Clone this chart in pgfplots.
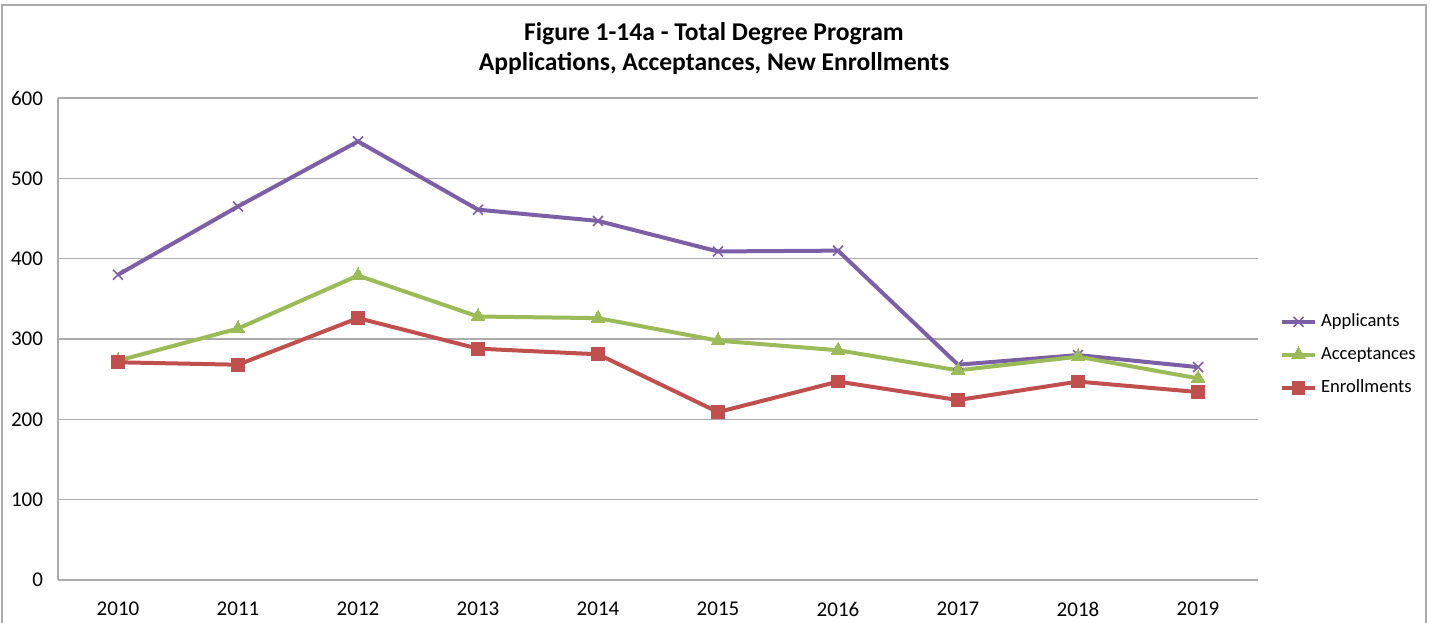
\documentclass[border=0pt]{standalone}
\usepackage{pgfplots}
\pgfplotsset{compat=1.18}
\usepackage{fontspec}
\setmainfont{Carlito}
\definecolor{appc}{HTML}{7D5FA5}
\definecolor{accc}{HTML}{9BBB59}
\definecolor{enrc}{HTML}{C0504D}
\definecolor{gridc}{HTML}{ABABAB}
\begin{document}
\begin{tikzpicture}[x=1pt,y=1pt]
\useasboundingbox (0,0) rectangle (715,311);
\draw[gridc, line width=1pt] (1,-20) -- (1,308.5) -- (713,308.5) -- (713,-20);
\node[font=\fontsize{12.8}{14}\selectfont\bfseries, align=center] at (357,294) {Figure 1-14a - Total Degree Program};
\node[font=\fontsize{12.8}{14}\selectfont\bfseries, align=center] at (357,279) {Applications, Acceptances, New Enrollments};
\begin{axis}[
  at={(29pt,21pt)}, anchor=south west,
  scale only axis, width=600pt, height=241pt,
  xmin=-0.5, xmax=9.5, ymin=0, ymax=600,
  xtick={0,...,9},
  xticklabels={2010,2011,2012,2013,2014,2015,2016,2017,2018,2019},
  ytick={0,100,...,600},
  major tick length=0pt,
  axis x line*=bottom, axis y line*=left,
  axis line style={gridc, line width=0.8pt, -},
  ymajorgrids, grid style={gridc, line width=0.8pt},
  tick label style={font=\fontsize{10.5}{12}\selectfont},
  /pgf/number format/assume math mode=true,
  yticklabel style={xshift=-4pt},
  xticklabel style={yshift=-7.5pt},
  legend style={at={(1.018,0.467)}, anchor=west, draw=none, fill=none,
    font=\fontsize{9.3}{11}\selectfont, row sep=4.8pt, inner xsep=0pt},
  legend cell align=left,
  legend image code/.code={\draw[mark repeat=2,mark phase=2] plot coordinates {(0cm,0cm)(0.29cm,0cm)(0.58cm,0cm)};},
  every axis plot/.append style={line width=2pt},
]
\addplot[appc, mark=x, mark size=3.5pt, mark options={line width=0.8pt}] coordinates {
(0,380)(1,465)(2,546)(3,461)(4,447)(5,409)(6,410)(7,268)(8,280)(9,265)};
\addlegendentry{Applicants}
\addplot[accc, mark=triangle*, mark size=4pt, mark options={line width=0pt}] coordinates {
(0,273)(1,313)(2,379)(3,328)(4,326)(5,298)(6,286)(7,261)(8,278)(9,251)};
\addlegendentry{Acceptances}
\addplot[enrc, mark=square*, mark size=3.2pt, mark options={line width=0pt}] coordinates {
(0,271)(1,268)(2,326)(3,288)(4,281)(5,209)(6,247)(7,224)(8,247)(9,234)};
\addlegendentry{Enrollments}
\end{axis}
\end{tikzpicture}
\end{document}
